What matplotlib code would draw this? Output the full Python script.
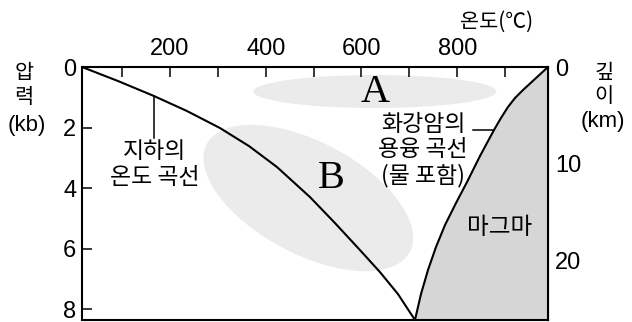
import matplotlib
matplotlib.use("Agg")
import matplotlib.pyplot as plt
from matplotlib.patches import Ellipse
import matplotlib.transforms as transforms

plt.rcParams['font.family'] = ['Liberation Sans', 'Noto Sans CJK KR', 'DejaVu Sans']
plt.rcParams['axes.unicode_minus'] = False

# 지하의 온도 곡선 (온도 °C, 압력 kb)
geo_temp = [16.5, 91.6, 166.8, 235.7, 304.6, 365.1, 423.6, 492.5, 544.7, 596.9, 638.6, 676.2, 711.7]
geo_pres = [0.0, 0.463, 0.959, 1.455, 2.017, 2.612, 3.306, 4.298, 5.157, 6.050, 6.777, 7.504, 8.36]

# 화강암의 용융 곡선 (물 포함)
melt_temp = [989.4, 964.4, 937.2, 920.5, 905.8, 891.2, 876.6, 847.4, 820.3, 797.3, 774.3,
             755.5, 738.8, 724.2, 711.7]
melt_pres = [0.0, 0.364, 0.760, 1.025, 1.322, 1.686, 2.083, 2.942, 3.802, 4.496, 5.223,
             5.950, 6.711, 7.504, 8.36]

temp_major = [200, 400, 600, 800]
temp_minor = [100, 300, 500, 700, 900]
pres_ticks = [0, 2, 4, 6, 8]
depth_ticks = [0, 10, 20]
KM_PER_KB = 3.13

KR = ['Noto Sans CJK KR', 'DejaVu Sans']
NUM = ['Liberation Sans', 'Noto Sans CJK KR', 'DejaVu Sans']

fig = plt.figure(figsize=(6.32, 3.22), dpi=100)
ax = fig.add_axes([82 / 632, 2 / 322, 466 / 632, 253 / 322])
ax.set_xlim(16.5, 989.4)
ax.set_ylim(8.36, 0)

# 영역 A, B (픽셀 크기로 그린 타원)
def add_blob(cx, cy, w_in, h_in, angle):
    trans = fig.dpi_scale_trans + transforms.ScaledTranslation(cx, cy, ax.transData)
    e = Ellipse((0, 0), w_in, h_in, angle=angle, transform=trans,
                facecolor="#ebebeb", edgecolor="none", zorder=1)
    ax.add_patch(e)

add_blob(628, 0.81, 2.43, 0.33, 0)
add_blob(489, 4.33, 2.30, 1.12, -28)

# 마그마 영역
ax.fill_betweenx(melt_pres, melt_temp, 989.4, color="#d6d6d6", zorder=2, linewidth=0)
ax.plot(geo_temp, geo_pres, color="black", lw=1.5, zorder=3, solid_capstyle="butt")
ax.plot(melt_temp, melt_pres, color="black", lw=1.5, zorder=3, solid_capstyle="butt")

# 지시선
ax.plot([167, 167], [0.96, 2.35], color="black", lw=1.1, zorder=3)
ax.plot([833, 877], [2.08, 2.08], color="black", lw=1.1, zorder=3)

ax.text(169, 3.22, "지하의\n온도 곡선", family=KR, fontsize=16.5, ha="center", va="center",
        linespacing=1.2, zorder=4)
ax.text(822, 2.74, "화강암의\n용융 곡선\n(물 포함)", family=KR, fontsize=16.5, ha="right",
        va="center", multialignment="center", linespacing=1.12, zorder=4)
ax.text(889, 5.29, "마그마", family=KR, fontsize=17, ha="center", va="center", zorder=4)
ax.text(628, 0.83, "A", family="Liberation Serif", fontsize=29, ha="center", va="center", zorder=4)
ax.text(536, 3.67, "B", family="Liberation Serif", fontsize=29, ha="center", va="center", zorder=4)

# 축
ax.xaxis.set_ticks_position("top")
ax.set_xticks(temp_major)
ax.set_xticks(temp_minor, minor=True)
ax.set_yticks(pres_ticks)
ax.tick_params(axis="both", which="both", direction="in", length=7, width=1.1,
               labelsize=17, right=False)
ax.tick_params(axis="x", which="both", pad=5)
ax.tick_params(axis="y", pad=4)
for s in ax.spines.values():
    s.set_linewidth(1.5)

sec = ax.secondary_yaxis("right", functions=(lambda p: p * KM_PER_KB, lambda d: d / KM_PER_KB))
sec.set_yticks(depth_ticks)
sec.tick_params(direction="in", length=7, width=1.1, labelsize=17, pad=5)
sec.spines["right"].set_linewidth(1.5)

# 축 제목
fig.text(24 / 632, 1 - 73 / 322, "압", family=KR, fontsize=15, ha="center", va="center")
fig.text(24 / 632, 1 - 97 / 322, "력", family=KR, fontsize=15, ha="center", va="center")
fig.text(27 / 632, 1 - 126 / 322, "(kb)", family=NUM, fontsize=16, ha="center", va="center")
fig.text(604 / 632, 1 - 73 / 322, "깊", family=KR, fontsize=15, ha="center", va="center")
fig.text(604 / 632, 1 - 96 / 322, "이", family=KR, fontsize=15, ha="center", va="center")
fig.text(603 / 632, 1 - 121 / 322, "(km)", family=NUM, fontsize=16, ha="center", va="center")
fig.text(497 / 632, 1 - 22 / 322, "온도(℃)", family=KR, fontsize=15, ha="center", va="center")

fig.savefig("out.png", dpi=100)
